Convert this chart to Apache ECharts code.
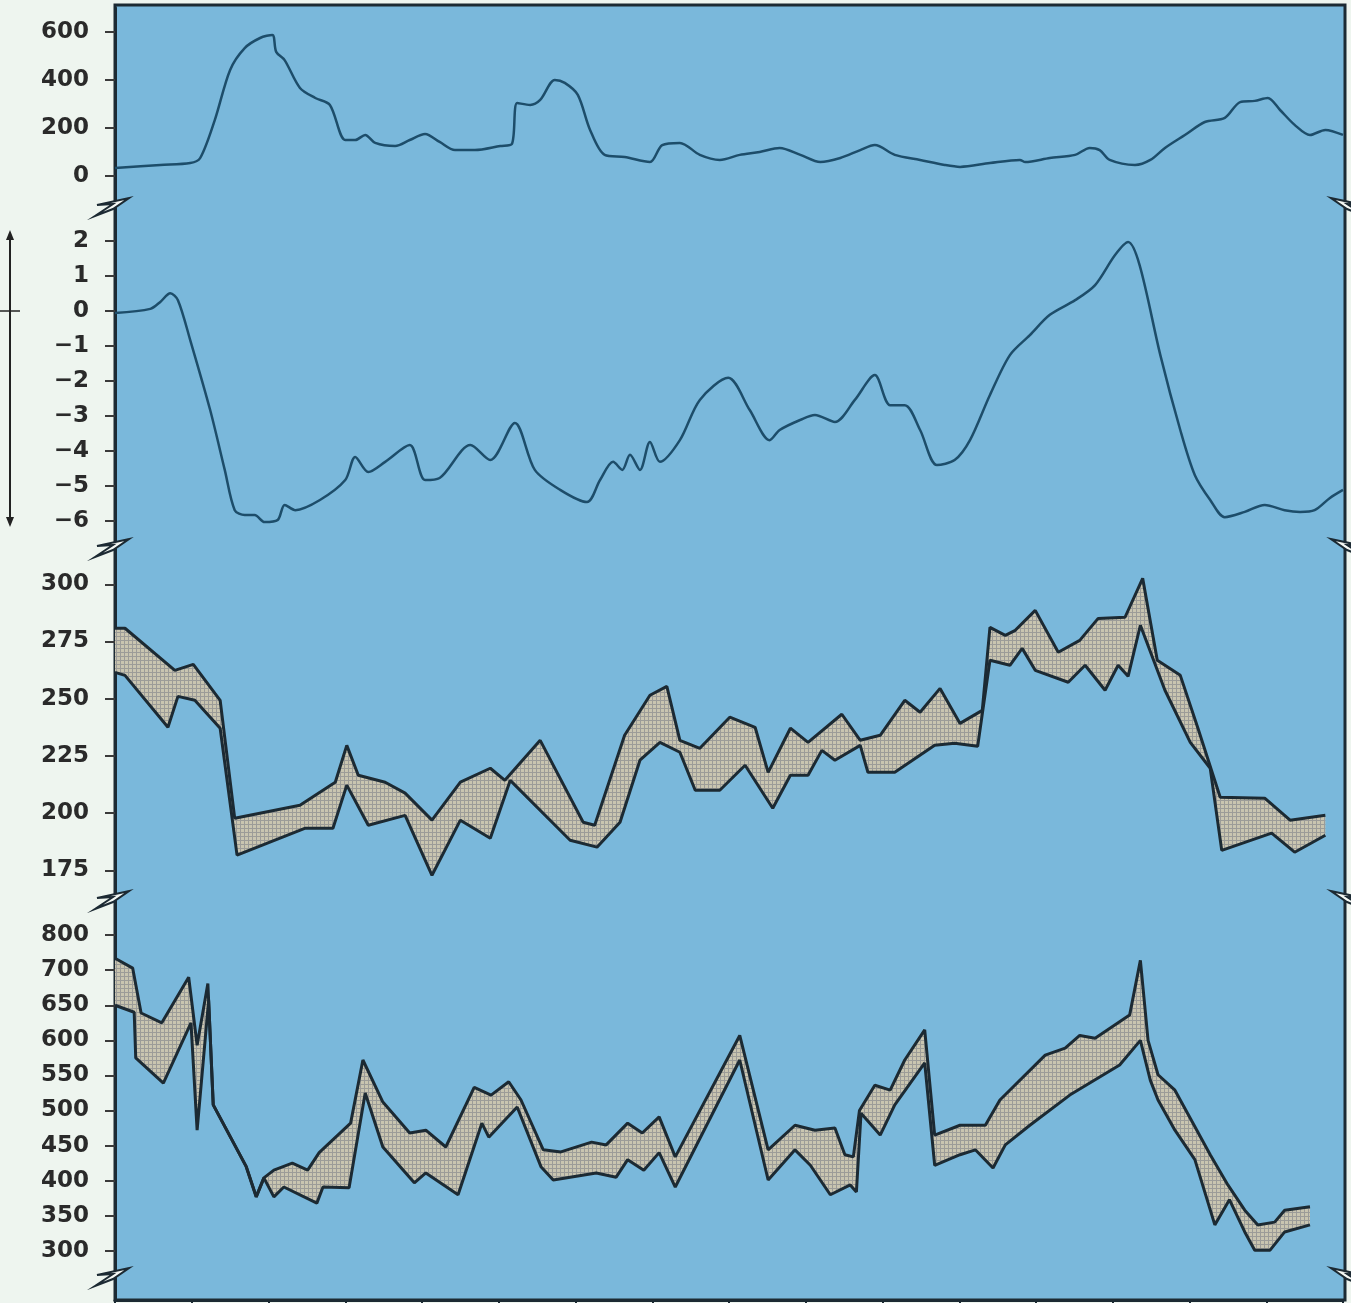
<!DOCTYPE html>
<html>
<head>
<meta charset="utf-8">
<title>Stacked panels</title>
<script src="https://cdn.jsdelivr.net/npm/echarts@6/dist/echarts.min.js"></script>
<style>
  html, body { margin: 0; padding: 0; background: #eef5ef; }
  #chart { width: 1351px; height: 1303px; }
</style>
</head>
<body>
<div id="chart"></div>
<script>
// x runs 0..16 (16 equal intervals along the bottom axis)
const xTicks = 16;

// panel 1: single smooth line
const p1Line = [[0,33],[0.59,46],[0.98,54],[1.11,75],[1.30,233],[1.50,442],[1.69,533],[1.89,575],[2.05,588],[2.10,517],[2.21,483],[2.41,367],[2.61,325],[2.80,296],[3.0,150],[3.13,150],[3.26,171],[3.39,138],[3.65,125],[3.84,150],[4.04,175],[4.23,142],[4.43,108],[4.69,108],[5.02,125],[5.17,133],[5.24,304],[5.41,296],[5.54,317],[5.73,400],[5.86,388],[6.03,338],[6.19,192],[6.38,88],[6.64,79],[6.97,58],[7.13,129],[7.36,138],[7.62,88],[7.88,67],[8.14,88],[8.40,100],[8.66,117],[8.93,88],[9.19,58],[9.45,75],[9.71,108],[9.90,129],[10.16,88],[10.49,67],[10.81,46],[11.01,38],[11.40,54],[11.79,67],[11.86,58],[12.18,75],[12.51,88],[12.70,117],[12.83,108],[12.96,67],[13.29,46],[13.49,67],[13.68,117],[13.94,171],[14.20,225],[14.46,242],[14.66,308],[14.85,313],[15.02,325],[15.18,275],[15.37,213],[15.57,171],[15.77,192],[16.0,171]];
const p1Ticks = [0, 200, 400, 600];

// panel 2: single smooth line
const p2Line = [[0,-0.06],[0.46,0.06],[0.59,0.26],[0.72,0.51],[0.82,0.31],[0.98,-0.83],[1.24,-2.83],[1.43,-4.54],[1.56,-5.69],[1.69,-5.83],[1.82,-5.83],[1.95,-6.03],[2.12,-5.97],[2.21,-5.54],[2.35,-5.69],[2.67,-5.4],[3.0,-4.83],[3.13,-4.17],[3.30,-4.6],[3.52,-4.31],[3.84,-3.83],[4.04,-4.83],[4.23,-4.77],[4.63,-3.83],[4.89,-4.26],[5.21,-3.2],[5.47,-4.54],[5.80,-5.11],[6.15,-5.46],[6.32,-4.83],[6.49,-4.31],[6.61,-4.54],[6.71,-4.11],[6.84,-4.54],[6.97,-3.74],[7.10,-4.31],[7.36,-3.69],[7.62,-2.54],[7.99,-1.91],[8.27,-2.83],[8.53,-3.69],[8.66,-3.4],[8.93,-3.11],[9.12,-2.97],[9.38,-3.17],[9.64,-2.54],[9.90,-1.83],[10.10,-2.69],[10.29,-2.69],[10.49,-3.4],[10.71,-4.4],[10.94,-4.26],[11.14,-3.69],[11.40,-2.4],[11.66,-1.26],[11.92,-0.69],[12.18,-0.11],[12.51,0.31],[12.77,0.74],[13.03,1.6],[13.20,1.97],[13.35,1.31],[13.62,-1.26],[13.88,-3.4],[14.07,-4.69],[14.27,-5.4],[14.46,-5.89],[14.72,-5.74],[14.98,-5.54],[15.24,-5.69],[15.44,-5.74],[15.63,-5.69],[15.83,-5.34],[16.0,-5.11]];
const p2Ticks = [-6, -5, -4, -3, -2, -1, 0, 1, 2];

// panel 3: band between two lines
const p3Upper = [[0,280.8],[0.13,280.8],[0.78,262.4],[1.02,265.0],[1.37,249.3],[1.56,197.7],[2.41,203.4],[2.87,213.5],[3.02,229.6],[3.17,216.5],[3.52,213.5],[3.78,208.7],[4.13,196.9],[4.50,213.5],[4.89,219.6],[5.08,214.3],[5.54,231.8],[6.10,196.0],[6.25,194.7],[6.64,234.0],[6.97,251.5],[7.19,255.4],[7.36,231.8],[7.62,228.3],[8.01,241.9],[8.34,237.5],[8.51,217.8],[8.80,237.1],[9.03,230.9],[9.47,243.2],[9.71,231.8],[9.97,234.0],[10.29,249.3],[10.49,244.1],[10.75,254.5],[11.01,239.2],[11.30,244.9],[11.40,281.2],[11.60,277.7],[11.73,279.9],[11.99,288.6],[12.29,270.3],[12.57,275.5],[12.81,285.1],[13.16,285.6],[13.39,302.6],[13.58,266.8],[13.88,260.2],[14.11,237.1],[14.40,206.9],[14.98,206.5],[15.31,196.9],[15.77,199.0]];
const p3Lower = [[0,261.5],[0.13,260.2],[0.69,237.5],[0.82,251.0],[1.04,249.3],[1.37,237.1],[1.59,181.6],[2.48,193.4],[2.84,193.4],[3.02,212.2],[3.30,194.7],[3.78,199.0],[4.13,172.8],[4.50,196.9],[4.89,189.0],[5.15,214.3],[5.93,188.1],[6.28,185.1],[6.58,196.0],[6.84,223.1],[7.10,230.9],[7.36,226.6],[7.56,210.0],[7.88,210.0],[8.21,220.9],[8.57,202.1],[8.80,216.5],[9.03,216.5],[9.21,227.4],[9.38,223.1],[9.71,229.6],[9.81,217.8],[10.16,217.8],[10.68,229.6],[10.94,230.5],[11.24,229.2],[11.40,266.8],[11.66,264.6],[11.82,272.0],[11.99,262.4],[12.42,257.2],[12.64,264.6],[12.90,253.7],[13.07,264.6],[13.20,259.8],[13.36,282.1],[13.68,253.7],[14.01,230.9],[14.27,219.6],[14.42,183.7],[15.07,191.2],[15.37,182.9],[15.77,190.3]];
const p3Ticks = [175, 200, 225, 250, 275, 300];

// panel 4: band between two lines
const p4Upper = [[0,717],[0.23,703],[0.34,639],[0.61,625],[0.96,690],[1.07,593],[1.21,681],[1.28,508],[1.71,420],[1.84,377],[1.94,404],[2.07,415],[2.31,425],[2.51,415],[2.66,440],[3.07,482],[3.23,572],[3.49,512],[3.84,468],[4.05,472],[4.31,448],[4.68,533],[4.90,522],[5.13,541],[5.29,515],[5.58,444],[5.81,441],[6.21,455],[6.40,451],[6.68,482],[6.87,468],[7.09,491],[7.30,434],[8.14,607],[8.51,444],[8.86,479],[9.12,472],[9.38,475],[9.51,437],[9.62,434],[9.70,500],[9.90,536],[10.10,529],[10.29,572],[10.55,615],[10.68,465],[11.01,479],[11.34,479],[11.53,515],[12.12,579],[12.38,589],[12.57,607],[12.77,603],[13.22,636],[13.36,714],[13.46,600],[13.59,551],[13.81,529],[14.01,489],[14.27,437],[14.50,394],[14.72,358],[14.89,337],[15.11,341],[15.24,358],[15.57,363]];
const p4Lower = [[0,650],[0.25,640],[0.27,575],[0.63,539],[0.99,625],[1.07,472],[1.22,657],[1.28,508],[1.71,420],[1.84,377],[1.94,404],[2.07,377],[2.20,391],[2.63,368],[2.71,391],[3.05,390],[3.26,525],[3.49,448],[3.90,397],[4.05,411],[4.47,380],[4.78,482],[4.87,462],[5.24,505],[5.55,420],[5.71,401],[6.27,411],[6.53,405],[6.68,430],[6.89,415],[7.09,440],[7.30,391],[8.14,572],[8.51,401],[8.86,444],[9.06,422],[9.32,380],[9.58,394],[9.66,384],[9.72,496],[9.97,465],[10.16,508],[10.55,568],[10.68,422],[11.01,437],[11.21,444],[11.44,418],[11.60,451],[11.92,479],[12.44,522],[13.09,565],[13.36,600],[13.49,543],[13.59,515],[13.81,472],[14.07,430],[14.33,337],[14.52,373],[14.72,327],[14.85,301],[15.05,301],[15.24,327],[15.57,337]];
// tick positions and their printed labels (top label sits one step above 700)
const p4Ticks = [300, 350, 400, 450, 500, 550, 600, 650, 700, 750];
const p4TickText = ['300', '350', '400', '450', '500', '550', '600', '650', '700', '800'];

const chart = echarts.init(document.getElementById('chart'));

const inkColor = '#1c2a33';
const lineColor = '#1d4d6a';
const plotLeft = 115, plotWidth = 1228;

// hatched fill for the bands
const hatch = document.createElement('canvas');
hatch.width = 4; hatch.height = 4;
const hctx = hatch.getContext('2d');
hctx.fillStyle = '#c9c5b0';
hctx.fillRect(0, 0, 4, 4);
hctx.fillStyle = '#9c9c98';
hctx.fillRect(0, 0, 4, 1);
hctx.fillRect(0, 0, 1, 4);

const labelFont = { fontFamily: 'DejaVu Sans', fontWeight: 'bold', fontSize: 23, color: '#2a2a2a' };

function yAxisFor(idx, min, max, ticks, fmt) {
  return {
    type: 'value', gridIndex: idx, min: min, max: max,
    splitLine: { show: false },
    axisLine: { show: true, lineStyle: { color: inkColor, width: 3 } },
    axisTick: { show: true, customValues: ticks, length: 10, lineStyle: { color: '#3a3a3a', width: 2 } },
    axisLabel: Object.assign({ customValues: ticks, margin: 26, formatter: fmt }, labelFont)
  };
}

function xAxisFor(idx, showAxis) {
  return {
    type: 'value', gridIndex: idx, min: 0, max: xTicks, interval: 1,
    axisLine: { show: showAxis, onZero: false, lineStyle: { color: inkColor, width: 3 } },
    axisTick: { show: showAxis, length: 6, lineStyle: { color: inkColor, width: 2 } },
    axisLabel: { show: false },
    splitLine: { show: false }
  };
}

function bandSeries(idx, upper, lower) {
  return {
    type: 'custom', xAxisIndex: idx, yAxisIndex: idx, silent: true, z: 1,
    data: [[0, 0]],
    renderItem: function (params, api) {
      const pts = upper.concat(lower.slice().reverse()).map(function (p) { return api.coord(p); });
      return { type: 'polygon', shape: { points: pts }, style: { fill: { image: hatch, repeat: 'repeat' }, stroke: null } };
    }
  };
}

function lineSeries(idx, data, smooth, color, width) {
  return {
    type: 'line', xAxisIndex: idx, yAxisIndex: idx, data: data, smooth: smooth,
    showSymbol: false, silent: true, z: 3,
    lineStyle: { color: color, width: width }
  };
}

const minus = function (v) { return String(v).replace('-', '\u2212'); };

// break marks on both edges of the frame
function breakMark(x, y, side) {
  const s = side === 'left' ? -1 : 1;
  return {
    type: 'polygon', z: 100, silent: true,
    shape: { points: [[x + s * 18, y - 2], [x - s * 14, y - 9], [x + s * 2, y + 2], [x + s * 20, y + 9], [x + s * 2, y - 3]] },
    style: { fill: '#f4f8f4', stroke: inkColor, lineWidth: 2 }
  };
}

const breaks = [207, 548, 900, 1277];
const graphics = [
  { type: 'rect', z: -1, silent: true, shape: { x: plotLeft, y: 5, width: 1230, height: 1295 },
    style: { fill: '#7ab8db', stroke: inkColor, lineWidth: 3 } }
];
breaks.forEach(function (y) {
  graphics.push(breakMark(plotLeft, y, 'left'));
  graphics.push(breakMark(plotLeft + 1230, y, 'right'));
});
// double-headed arrow beside panel 2
graphics.push({ type: 'line', z: 100, silent: true, shape: { x1: 10, y1: 238, x2: 10, y2: 519 }, style: { stroke: '#222', lineWidth: 2 } });
graphics.push({ type: 'polygon', z: 100, silent: true, shape: { points: [[10, 230], [6, 240], [14, 240]] }, style: { fill: '#222' } });
graphics.push({ type: 'polygon', z: 100, silent: true, shape: { points: [[10, 527], [6, 517], [14, 517]] }, style: { fill: '#222' } });
graphics.push({ type: 'line', z: 100, silent: true, shape: { x1: 0, y1: 311, x2: 20, y2: 311 }, style: { stroke: '#222', lineWidth: 1.5 } });

const option = {
  animation: false,
  backgroundColor: '#eef5ef',
  graphic: graphics,
  grid: [
    { left: plotLeft, width: plotWidth, top: 8, height: 198 },
    { left: plotLeft, width: plotWidth, top: 206, height: 343 },
    { left: plotLeft, width: plotWidth, top: 550, height: 350 },
    { left: plotLeft, width: plotWidth, top: 900, height: 400 }
  ],
  xAxis: [xAxisFor(0, false), xAxisFor(1, false), xAxisFor(2, false), xAxisFor(3, true)],
  yAxis: [
    yAxisFor(0, -125, 700, p1Ticks),
    yAxisFor(1, -6.8, 3, p2Ticks, minus),
    yAxisFor(2, 162, 315, p3Ticks),
    yAxisFor(3, 230, 800, p4Ticks, function (v) { return p4TickText[p4Ticks.indexOf(v)]; })
  ],
  series: [
    lineSeries(0, p1Line, 0.3, lineColor, 2.5),
    lineSeries(1, p2Line, 0.3, lineColor, 2.5),
    bandSeries(2, p3Upper, p3Lower),
    lineSeries(2, p3Upper, false, inkColor, 3),
    lineSeries(2, p3Lower, false, inkColor, 3),
    bandSeries(3, p4Upper, p4Lower),
    lineSeries(3, p4Upper, false, inkColor, 3),
    lineSeries(3, p4Lower, false, inkColor, 3)
  ]
};
chart.setOption(option);
</script>
</body>
</html>
